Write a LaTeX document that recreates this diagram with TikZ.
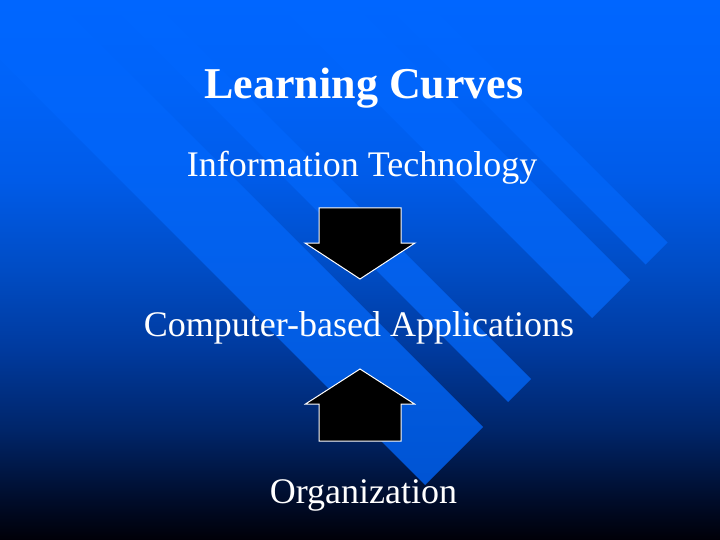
\documentclass[tikz,border=0pt]{standalone}
\usepackage{fontspec}
\setmainfont{Liberation Serif}
\definecolor{bg0}{RGB}{0,0,8}
\definecolor{bg1}{RGB}{0,12,42}
\definecolor{bg2}{RGB}{0,37,105}
\definecolor{bg3}{RGB}{0,58,158}
\definecolor{bg4}{RGB}{0,76,196}
\definecolor{bg5}{RGB}{0,91,232}
\definecolor{bg6}{RGB}{0,99,248}
\definecolor{bg7}{RGB}{0,102,255}
\definecolor{st0}{RGB}{0,80,205}
\definecolor{st1}{RGB}{0,86,215}
\definecolor{st2}{RGB}{3,95,232}
\definecolor{st3}{RGB}{1,100,248}
\definecolor{st4}{RGB}{0,102,255}
\pgfdeclareverticalshading{bgshade}{100bp}{color(0bp)=(bg0); color(25bp)=(bg0); color(28.7bp)=(bg1); color(35.19bp)=(bg2); color(42.59bp)=(bg3); color(50bp)=(bg4); color(58.33bp)=(bg5); color(66.67bp)=(bg6); color(75bp)=(bg7); color(100bp)=(bg7)}
\pgfdeclareverticalshading{stripeshade}{100bp}{color(0bp)=(st0); color(25bp)=(st0); color(33.33bp)=(st1); color(47.22bp)=(st2); color(61.11bp)=(st3); color(75bp)=(st4); color(100bp)=(st4)}
\tikzset{
  blockarrow/.style={fill=black, draw=white, line width=1pt, line join=miter},
  slidetext/.style={text=white, inner sep=0pt, anchor=base, font=\fontsize{36}{40}\selectfont},
  slidetitle/.style={text=white, inner sep=0pt, anchor=base, font=\fontsize{44}{50}\selectfont\bfseries}
}
\begin{document}
\begin{tikzpicture}[x=1pt,y=-1pt]
\useasboundingbox (0,0) rectangle (720,540);
\shade[shading=bgshade] (0,0) rectangle (720,540);
\begin{scope}
\clip (90.5,-290.5) -- (112.5,-312.5) -- (667.5,242.5) -- (645.5,264.5) -- cycle
      (37,-237) -- (75,-275) -- (630,280) -- (592,318) -- cycle
      (-47,-153) -- (-24,-176) -- (531,379) -- (508,402) -- cycle
      (-130,-70) -- (-72,-128) -- (483,427) -- (425,485) -- cycle;
\shade[shading=stripeshade] (0,0) rectangle (720,540);
\end{scope}
\node[slidetitle] (title) at (364,99) {Learning Curves};
\node[slidetext] (it) at (362,177) {Information Technology};
\node[slidetext] (cba) at (359,336) {Computer-based Applications};
\node[slidetext] (org) at (363.5,503) {Organization};
\draw[blockarrow] (319,208) -- (401,208) -- (401,243) -- (415,243) -- (360,279) -- (305,243) -- (319,243) -- cycle;
\draw[blockarrow] (360,369) -- (414.5,404) -- (401,404) -- (401,441) -- (319,441) -- (319,404) -- (305.5,404) -- cycle;
\end{tikzpicture}
\end{document}
